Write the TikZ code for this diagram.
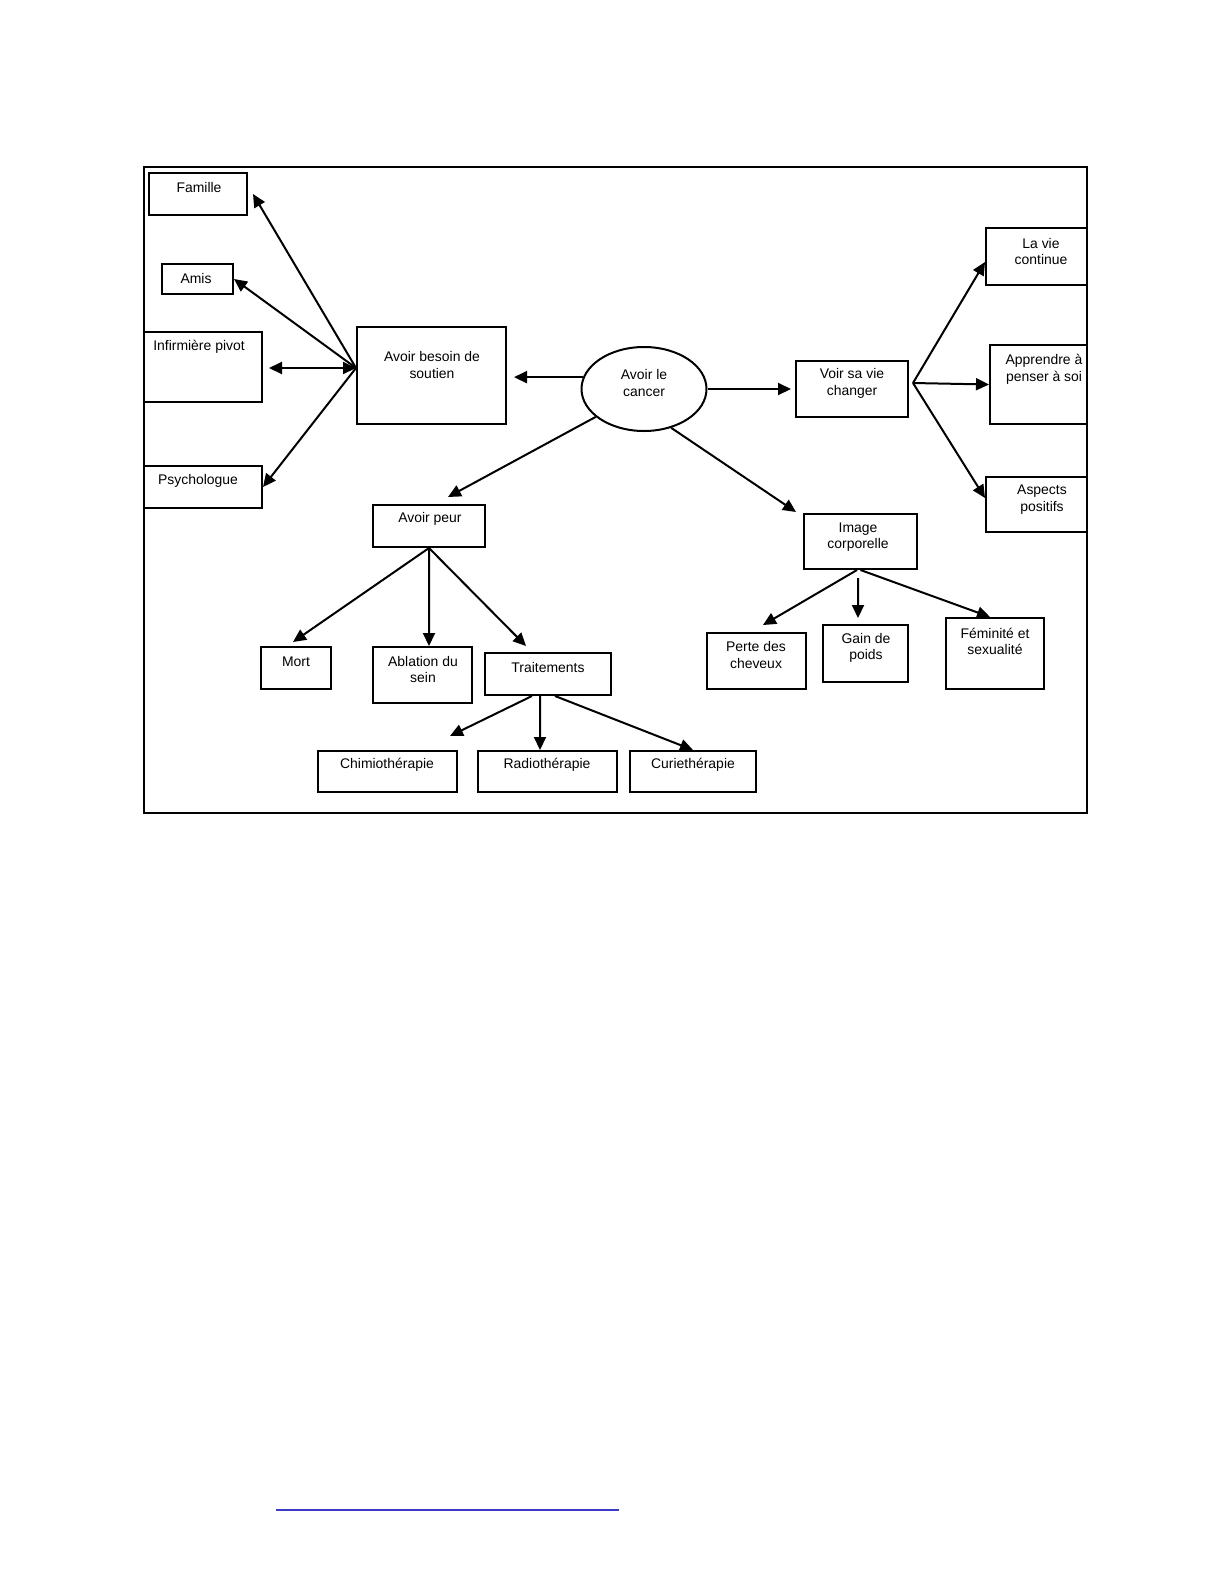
\documentclass[tikz,border=0pt]{standalone}
\usepackage{fontspec}
\setmainfont{Liberation Sans}
\usetikzlibrary{arrows.meta,positioning,fit,shapes.geometric}
\definecolor{rulecol}{RGB}{60,60,200}

\begin{document}
\begin{tikzpicture}[x=0.5bp, y=-0.5bp, ->, >={Triangle[length=6.5bp,width=6bp]}, line width=1bp]
\tikzstyle{box}=[draw, rectangle, inner sep=0pt, line width=1bp]
\tikzstyle{lbl}=[font=\fontsize{7}{8.3}\selectfont, align=center, inner sep=0pt]
\useasboundingbox (0,0) rectangle (1224,1584);
\draw[-, line width=0.7bp] (144,167) rectangle (1087,813);

% boxes
\node[box, fit={(149,173) (247,215)}]   (famille)    {};
\node[box, fit={(162,264) (233,294)}]   (amis)       {};
\node[box, fit={(144,332) (262,402)}]   (infirmiere) {};
\node[box, fit={(144,466) (262,508)}]   (psycho)     {};
\node[box, fit={(357,327) (506,424)}]   (soutien)    {};
\node[draw, ellipse, inner sep=0pt, minimum width=62.5bp, minimum height=42bp] (cancer) at (644,389) {};
\node[box, fit={(796,361) (908,417)}]   (voir)       {};
\node[box, fit={(986,228) (1087,285)}]  (lavie)      {};
\node[box, fit={(990,345) (1087,424)}]  (apprendre)  {};
\node[box, fit={(986,477) (1087,532)}]  (aspects)    {};
\node[box, fit={(373,505) (485,547)}]   (peur)       {};
\node[box, fit={(261,647) (331,689)}]   (mort)       {};
\node[box, fit={(373,647) (472,703)}]   (ablation)   {};
\node[box, fit={(485,653) (611,695)}]   (trait)      {};
\node[box, fit={(318,751) (457,792)}]   (chimio)     {};
\node[box, fit={(478,751) (617,792)}]   (radio)      {};
\node[box, fit={(630,751) (756,792)}]   (curie)      {};
\node[box, fit={(804,514) (917,569)}]   (image)      {};
\node[box, fit={(707,633) (806,689)}]   (perte)      {};
\node[box, fit={(823,625) (908,682)}]   (gain)       {};
\node[box, fit={(946,618) (1044,689)}]  (fem)        {};

% texts
\node[lbl] (t-famille)    at (199,188)    {Famille};
\node[lbl] (t-amis)       at (196,279)    {Amis};
\node[lbl] (t-infirmiere) at (199,347)    {Infirmière pivot};
\node[lbl] (t-psycho)     at (198,481)    {Psychologue};
\node[lbl] (t-soutien)    at (432,365)    {Avoir besoin de\\soutien};
\node[lbl] (t-cancer)     at (644,383)    {Avoir le\\cancer};
\node[lbl] (t-voir)       at (852,383.5)  {Voir sa vie\\changer};
\node[lbl] (t-lavie)      at (1041,251.5) {La vie\\continue};
\node[lbl] (t-apprendre)  at (1044,369.5) {Apprendre à\\penser à soi};
\node[lbl] (t-aspects)    at (1042,499.5) {Aspects\\positifs};
\node[lbl] (t-peur)       at (430,519)    {Avoir peur};
\node[lbl] (t-mort)       at (296,662)    {Mort};
\node[lbl] (t-ablation)   at (423,669.5)  {Ablation du\\sein};
\node[lbl] (t-trait)      at (548,668)    {Traitements};
\node[lbl] (t-chimio)     at (387,765)    {Chimiothérapie};
\node[lbl] (t-radio)      at (547,765)    {Radiothérapie};
\node[lbl] (t-curie)      at (693,765)    {Curiethérapie};
\node[lbl] (t-image)      at (858,537)    {Image\\corporelle};
\node[lbl] (t-perte)      at (756,655)    {Perte des\\cheveux};
\node[lbl] (t-gain)       at (866,648)    {Gain de\\poids};
\node[lbl] (t-fem)        at (995,641.5)  {Féminité et\\sexualité};

% connectors
\coordinate (soutien-hub) at ([yshift=3.75bp]soutien.west);
\coordinate (voir-hub) at ([shift={(2bp,3bp)}]voir.east);
\draw (soutien-hub) -- ([xshift=2.5bp]famille.east);
\draw (soutien-hub) -- (amis.east);
\draw[<->] ([xshift=3bp]infirmiere.east |- soutien-hub) -- (soutien-hub);
\draw (soutien-hub) -- (psycho.east);
\draw[shorten >=3.5bp] (cancer.169) -- (cancer.169 -| soutien.east);
\draw[shorten >=2bp] (cancer.east) -- (voir.west);
\draw (cancer.-55) -- ([shift={(-3.5bp,0.5bp)}]image.north west);
\draw (cancer.210) -- ([shift={(9.5bp,3.5bp)}]peur.north);
\draw (voir-hub) -- ([yshift=-2.75bp]lavie.west);
\draw (voir-hub) -- (apprendre.west);
\draw (voir-hub) -- ([yshift=3.25bp]aspects.west);
\draw (peur.south) -- ([shift={(-1.5bp,2bp)}]mort.north);
\draw (peur.south) -- ([xshift=3.25bp]ablation.north);
\draw (peur.south) -- ([shift={(21bp,3bp)}]trait.north west);
\draw ([xshift=-8bp]trait.south) -- ([shift={(-4bp,7bp)}]chimio.north east);
\draw ([xshift=-4bp]trait.south) -- ([xshift=-3.75bp]radio.north);
\draw ([xshift=3.5bp]trait.south) -- (curie.north);
\draw ([xshift=-1.75bp]image.south) -- ([shift={(3.25bp,3.5bp)}]perte.north);
\draw ([shift={(-1.25bp,-4bp)}]image.south) -- ([shift={(-3.75bp,3bp)}]gain.north);
\draw (image.south) -- ([xshift=-2.5bp]fem.north);

\draw[-, rulecol, line width=0.6bp] (276,1510) -- (619,1510);
\end{tikzpicture}
\end{document}
